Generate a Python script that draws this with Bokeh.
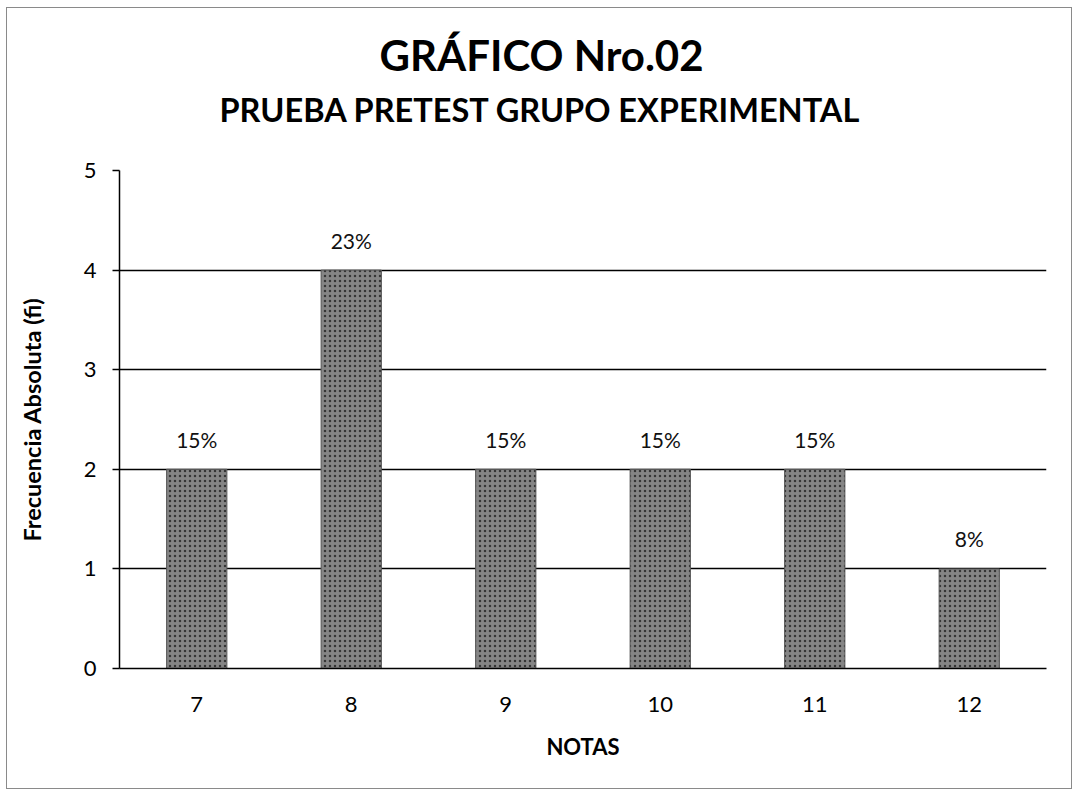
from bokeh.plotting import figure
from bokeh.models import ColumnDataSource, LabelSet, Title
from bokeh.core.properties import value
from bokeh.embed import file_html
from bokeh.resources import INLINE

notas = ["7", "8", "9", "10", "11", "12"]
frecuencia = [2, 4, 2, 2, 2, 1]
porcentajes = ["15%", "23%", "15%", "15%", "15%", "8%"]
y_ticks = [0, 1, 2, 3, 4, 5]

FONT = "Lato"

src = ColumnDataSource(dict(notas=notas, fi=frecuencia, pct=porcentajes))

p = figure(x_range=notas, y_range=(0, 5), width=1066, height=782,
           output_backend="svg", toolbar_location=None, title=None,
           min_border_left=112, min_border_right=27,
           min_border_top=162, min_border_bottom=122)
p.styles = {"border": "1px solid #8a8a8a", "margin-left": "6px", "margin-top": "7px"}
p.outline_line_color = None
p.background_fill_color = "white"
p.border_fill_color = "white"

p.vbar(x="notas", top="fi", width=0.39, source=src,
       fill_color="#858585", line_color="#555555", line_width=1,
       hatch_pattern="dot", hatch_color="black", hatch_alpha=0.6,
       hatch_scale=5, hatch_weight=1.6)

labels = LabelSet(x="notas", y="fi", text="pct", source=src,
                  text_align="center", text_baseline="middle", y_offset=30,
                  text_font=value(FONT), text_font_size=value("21px"),
                  text_color="#111111")
p.add_layout(labels)

spacer = Title(text=" ", text_font_size="1px", standoff=38)
subtitle = Title(text="PRUEBA PRETEST GRUPO EXPERIMENTAL", align="left",
                 text_font=FONT, text_font_size="32.5px", text_font_style="bold",
                 text_color="black", standoff=2, offset=100)
main_title = Title(text="GRÁFICO Nro.02", align="left",
                   text_font=FONT, text_font_size="42px", text_font_style="bold",
                   text_color="black", standoff=14, offset=260)
p.add_layout(spacer, "above")
p.add_layout(subtitle, "above")
p.add_layout(main_title, "above")

p.xgrid.grid_line_color = None
p.ygrid.grid_line_color = "black"
p.ygrid.grid_line_width = 1.5
p.yaxis.ticker = y_ticks

p.yaxis.axis_label = "Frecuencia Absoluta (fi)"
p.xaxis.axis_label = "NOTAS"
for ax in (p.xaxis, p.yaxis):
    ax.axis_label_text_font = FONT
    ax.axis_label_text_font_style = "bold"
    ax.axis_label_text_font_size = "22px"
    ax.axis_label_text_color = "black"
    ax.major_label_text_font = FONT
    ax.major_label_text_font_size = "22px"
    ax.major_label_text_color = "black"
    ax.axis_line_color = "black"
    ax.axis_line_width = 1.5
    ax.minor_tick_line_color = None
p.yaxis.axis_label_text_font_size = "23.5px"

p.yaxis.major_tick_out = 7
p.yaxis.major_tick_in = 0
p.yaxis.major_tick_line_color = "black"
p.yaxis.major_tick_line_width = 1.5
p.yaxis.major_label_standoff = 16
p.yaxis.axis_label_standoff = 35
p.xaxis.major_tick_line_color = None
p.xaxis.major_label_standoff = 22
p.xaxis.axis_label_standoff = 18

open("out.html", "w").write(file_html(p, INLINE))
